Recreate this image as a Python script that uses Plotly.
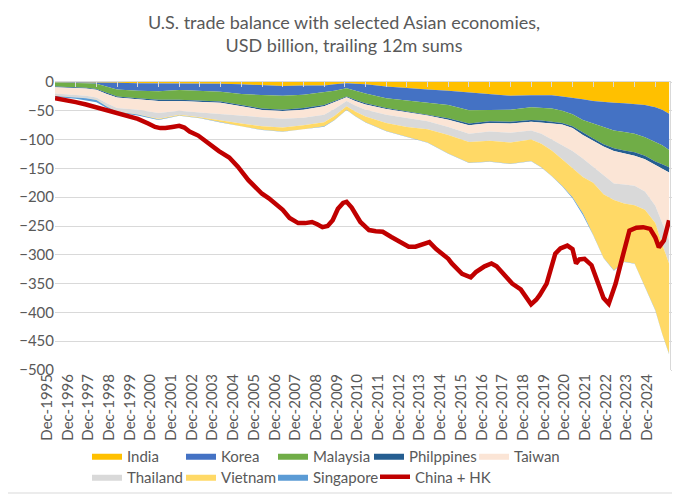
import plotly.graph_objects as go

# ---- Stacked series (USD bn, trailing 12m sums) ----
months = ["1995-12-01", "1996-12-01", "1997-06-01", "1997-12-01", "1998-06-01", "1998-12-01",
          "1999-12-01", "2000-12-01", "2001-12-01", "2002-12-01", "2003-12-01", "2004-12-01",
          "2005-12-01", "2006-12-01", "2007-12-01", "2008-12-01", "2009-06-01", "2010-01-01",
          "2010-06-01", "2010-12-01", "2011-12-01", "2012-12-01", "2013-12-01", "2014-12-01",
          "2015-12-01", "2016-12-01", "2017-12-01", "2018-12-01", "2019-06-01", "2019-12-01",
          "2020-06-01", "2020-12-01", "2021-06-01", "2021-12-01", "2022-06-01", "2022-12-01",
          "2023-06-01", "2023-12-01", "2024-06-01", "2024-12-01", "2025-04-01", "2025-08-01"]

india = [-0.5, -0.5, -0.7, -1, -1.2, -1.5, -2, -2, -2, -2.5, -3, -4, -6, -7, -6, -6, -4, -2,
         -3, -4, -8, -11, -13, -15, -18, -22, -24, -23, -23, -23, -25, -27, -30, -33, -35, -36,
         -37, -38, -40, -44, -48, -55]
korea = [-0.5, -0.5, -1.3, -2, -6.8, -11.5, -13, -14, -12, -12.5, -14, -17, -17, -17, -16, -12,
         -11, -9, -12, -16, -20, -21, -22, -25, -31, -26, -24, -21, -22, -23, -25, -29, -36, -39,
         -43, -48, -50, -52, -56, -61, -62, -63]
malaysia = [-7, -8, -8, -9, -11, -12, -13, -15, -17, -17, -17, -19, -23, -24, -23, -22, -18, -14,
            -16, -17, -17, -19, -21, -23, -23, -20, -21, -22, -22, -23, -21, -21, -22, -26, -30,
            -31, -32, -32, -32, -33, -33, -30]
philippines = [-1, -1.5, -1.5, -1.5, -2, -2, -2, -2, -2, -2, -2, -2, -2.5, -2.5, -3, -2, -2,
               -1.5, -2, -2, -2, -2, -2, -2.5, -3, -3, -3, -3, -3, -3, -3, -3, -4, -4, -4, -5,
               -5, -6, -6, -6, -7, -9]
taiwan = [-11, -11.5, -12.5, -13.5, -16, -18, -18, -21, -17, -19, -20, -16, -13.5, -13.5, -14,
          -15, -12, -6.5, -8, -9, -10, -10, -10, -12.5, -15, -15, -16, -15, -20, -28, -36, -40,
          -41, -45, -50, -56, -54, -52, -56, -71, -95, -118]
thailand = [-4, -4, -4, -4, -5, -6, -8, -10, -7, -8, -11, -14, -15, -15, -13, -13, -12, -9, -10,
            -12, -14, -15, -14, -14, -14, -16, -17, -16, -17, -19, -24, -30, -32, -28, -33, -29,
            -33, -34, -32, -30, -37, -40]
vietnam = [-0.3, -0.3, -0.3, -0.3, -0.5, -0.5, -0.5, -1, -1, -1.5, -3, -5, -6, -7, -7, -7, -7,
           -6, -8, -10, -14, -17, -23, -32, -36, -36, -37, -37, -41, -44, -46, -50, -63, -90,
           -110, -122, -101, -101, -134, -151, -155, -157]
singapore = [-1.7, -2.7, -3.7, -3.7, -2.5, -1.5, -1.5, -1, -0.5, -0.5, -0.5, -0.5, -0.5, -0.5,
             -0.5, -0.5, -0.5, -0.5, -0.5, -0.5, -0.5, -0.5, -0.5, -0.5, -0.5, -0.5, -0.5, -0.5,
             -0.5, -0.5, -1, -2, -3, -1, -0.5, -0.5, -0.5, -0.5, -0.5, -0.5, -0.5, -0.5]

# ---- China + HK line ----
china_dates = ["1995-12-01", "1996-06-01", "1996-12-01", "1997-06-01", "1997-12-01", "1998-06-01",
               "1998-12-01", "1999-06-01", "1999-12-01", "2000-06-01", "2000-10-01", "2001-01-01",
               "2001-04-01", "2001-08-01", "2001-12-01", "2002-03-01", "2002-06-01", "2002-11-01",
               "2003-03-01", "2003-07-01", "2003-11-01", "2004-05-01", "2004-10-01", "2005-04-01",
               "2005-12-01", "2006-04-01", "2006-08-01", "2006-12-01", "2007-04-01", "2007-09-01",
               "2008-01-01", "2008-05-01", "2008-08-01", "2008-11-01", "2009-02-01", "2009-05-01",
               "2009-08-01", "2009-11-01", "2010-01-01", "2010-04-01", "2010-09-01", "2011-02-01",
               "2011-06-01", "2011-10-01", "2012-03-01", "2012-08-01", "2013-01-01", "2013-05-01",
               "2013-09-01", "2014-01-01", "2014-05-01", "2014-08-01", "2014-12-01", "2015-02-01",
               "2015-08-01", "2016-01-01", "2016-04-01", "2016-09-01", "2017-01-01", "2017-04-01",
               "2017-07-01", "2017-10-01", "2018-01-01", "2018-06-01", "2018-09-01", "2018-12-01",
               "2019-03-01", "2019-05-01", "2019-09-01", "2019-12-01", "2020-02-01", "2020-05-01",
               "2020-09-01", "2020-12-01", "2021-02-01", "2021-04-01", "2021-07-01", "2021-11-01",
               "2022-03-01", "2022-06-01", "2022-09-01", "2022-11-01", "2023-01-01", "2023-05-01",
               "2023-09-01", "2024-01-01", "2024-05-01", "2024-09-01", "2024-12-01", "2025-02-01",
               "2025-05-01", "2025-08-01"]
china_hk = [-28, -31, -35, -39, -44, -48, -52, -57, -64, -72, -78, -80, -80, -78, -76, -79, -86,
            -93, -102, -113, -120, -131, -147, -170, -194, -202, -212, -222, -236, -245, -245,
            -243, -247, -252, -250, -240, -220, -210, -208, -218, -243, -257, -259, -260, -269,
            -278, -286, -286, -282, -278, -290, -298, -307, -315, -333, -339, -330, -320, -315,
            -320, -330, -342, -350, -360, -372, -386, -378, -370, -350, -322, -298, -289, -284,
            -290, -315, -308, -307, -318, -350, -375, -385, -370, -350, -304, -258, -253, -252,
            -255, -270, -287, -275, -240]

# name, values, colour, legend id
series = [
    ("India", india, "#FFC000", "legend"),
    ("Korea", korea, "#4472C4", "legend2"),
    ("Malaysia", malaysia, "#70AD47", "legend3"),
    ("Philppines", philippines, "#255E91", "legend4"),
    ("Taiwan", taiwan, "#FBE5D6", "legend5"),
    ("Thailand", thailand, "#D9D9D9", "legend6"),
    ("Vietnam", vietnam, "#FFD966", "legend7"),
    ("Singapore", singapore, "#5B9BD5", "legend8"),
]

fig = go.Figure()
for name, vals, col, leg in series:
    fig.add_trace(go.Scatter(
        x=months, y=vals, name=name, mode="lines", stackgroup="asia",
        line=dict(width=0, color=col), fillcolor=col, legend=leg,
        hoverinfo="skip"))

fig.add_trace(go.Scatter(
    x=china_dates, y=china_hk, name="China + HK", mode="lines",
    line=dict(color="#C00000", width=4.5), legend="legend9"))

# helper trace so the top axis line / right axis line are drawn
fig.add_trace(go.Scatter(x=[months[0]], y=[None], xaxis="x2", yaxis="y2",
                         showlegend=False, hoverinfo="skip", mode="lines"))

x_range = ["1995-12-01", "2025-08-17"]
grey = "#595959"
light = "#D9D9D9"

# the page body has an 8px margin: the figure is placed at (8, 8) in the window
OFF = 8
W, H = 680 - OFF, 494 - OFF
# plot area in window pixels: x 55..670, y 82..370
L, R, T, B = 55 - OFF, W - (670 - OFF), 82 - OFF, H - (370 - OFF)
pw, ph = W - L - R, H - T - B

def px_x(p):
    return (p - OFF - L) / pw

def px_y(p):
    return (H - B - (p - OFF)) / ph

def legend_at(xpx, ypx):
    return dict(orientation="h", xref="container", yref="container",
                x=(xpx - OFF) / W, y=1 - (ypx - OFF) / H, xanchor="left", yanchor="middle",
                font=dict(size=15, color=grey), bgcolor="rgba(0,0,0,0)",
                itemclick=False, itemdoubleclick=False)

row1, row2 = 456, 477
legends = {
    "legend": legend_at(87, row1),
    "legend2": legend_at(181, row1),
    "legend3": legend_at(273, row1),
    "legend4": legend_at(369, row1),
    "legend5": legend_at(474, row1),
    "legend6": legend_at(87, row2),
    "legend7": legend_at(181, row2),
    "legend8": legend_at(273, row2),
    "legend9": legend_at(375, row2),
}

fig.update_layout(
    width=W, height=H,
    margin=dict(l=L, r=R, t=T, b=B, autoexpand=False),
    paper_bgcolor="white", plot_bgcolor="white",
    font=dict(family="Lato, Carlito, sans-serif", color=grey, size=15),
    title=dict(text="U.S. trade balance with selected Asian economies,<br>USD billion, trailing 12m sums",
               x=0.5, xanchor="center", y=1 - 20.7 / H, yanchor="top",
               font=dict(size=18, color=grey)),
    xaxis=dict(type="date", range=x_range, tick0="1995-12-01", dtick="M12",
               tickformat="%b-%Y", tickangle=-90, showgrid=False, ticks="",
               showline=False, zeroline=False, tickfont=dict(size=15, color=grey),
               ticklabelshift=-8),
    xaxis2=dict(type="date", range=x_range, overlaying="x", side="top",
                tick0="1995-12-01", dtick="M12", showticklabels=False,
                ticks="inside", ticklen=5, tickcolor=light, showline=True,
                linecolor=light, showgrid=False, zeroline=False),
    yaxis=dict(range=[-500, 0], dtick=50, showgrid=True, gridcolor=light,
               zeroline=False, showline=False, ticks="",
               tickfont=dict(size=15, color=grey)),
    yaxis2=dict(range=[-500, 0], dtick=50, overlaying="y", side="right",
                showticklabels=False, ticks="outside", ticklen=3, tickcolor=light,
                showline=True, linecolor=light, showgrid=False, zeroline=False),
    shapes=[dict(type="rect", xref="paper", yref="paper",
                 x0=px_x(0.5), x1=px_x(679), y0=px_y(493), y1=px_y(0.5),
                 line=dict(color=light, width=1), fillcolor="rgba(0,0,0,0)", layer="below")],
    **legends,
)

fig.write_html("out.html")
